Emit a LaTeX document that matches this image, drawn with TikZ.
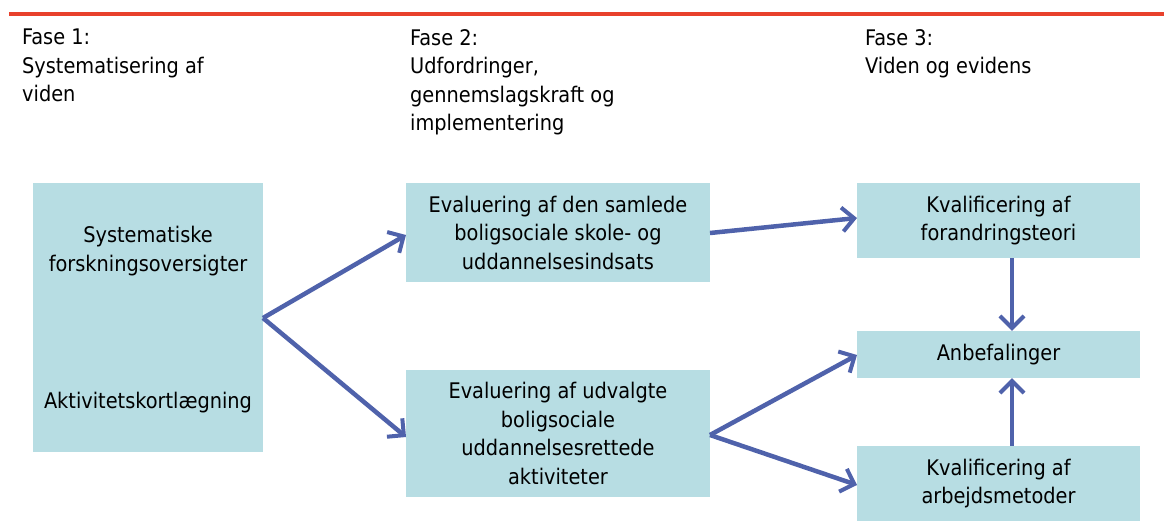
\documentclass[tikz,border=0pt]{standalone}
\usepackage{fontspec}
\setmainfont{DejaVu Sans Condensed}
\usetikzlibrary{arrows.meta}
\definecolor{boxfill}{HTML}{B7DDE3}
\definecolor{arrowblue}{HTML}{4F62AB}
\definecolor{topred}{HTML}{E8412C}
\begin{document}
\begin{tikzpicture}[x=1pt,y=-1pt,
  every node/.style={font=\fontsize{21.5}{28.5}\selectfont},
  phase/.style={anchor=north west,align=left,inner sep=0pt},
  box/.style={fill=boxfill,draw=none,align=center,inner sep=0pt},
  lbl/.style={align=center,inner sep=0pt},
  conn/.style={draw=arrowblue,line width=4.5pt,-{Straight Barb[length=12pt,width=24pt,line width=4pt]}}]
\useasboundingbox (0,0) rectangle (1164,532);
\draw[topred,line width=4pt] (9,14) -- (1164,14);
\node[phase] (p1) at (22,29) {Fase 1:\\Systematisering af\\viden};
\node[phase] (p2) at (410,29) {Fase 2:\\Udfordringer,\\gennemslagskraft og\\implementering};
\node[phase] (p3) at (865,29) {Fase 3:\\Viden og evidens};
% boxes
\node[box,minimum width=230pt,minimum height=269pt] (A) at (148,317.5) {};
\node[lbl] (a1) at (148,251) {Systematiske\\forskningsoversigter};
\node[lbl] (a2) at (148,403) {Aktivitetskortlægning};
\node[box,minimum width=304pt,minimum height=99pt] (B) at (558,232.5) {Evaluering af den samlede\\boligsociale skole- og\\uddannelsesindsats};
\node[box,minimum width=304pt,minimum height=127pt] (C) at (558,433.5) {Evaluering af udvalgte\\boligsociale\\uddannelsesrettede\\aktiviteter};
\node[box,minimum width=283pt,minimum height=75pt] (D) at (998.5,220.5) {Kvalificering af\\forandringsteori};
\node[box,minimum width=283pt,minimum height=47pt] (E) at (998.5,354.5) {Anbefalinger};
\node[box,minimum width=283pt,minimum height=75pt] (F) at (998.5,483.5) {Kvalificering af\\arbejdsmetoder};
% connectors
\coordinate (Ao) at (263,318);
\coordinate (Bo) at (710,233);
\coordinate (Co) at (710,435);
\draw[conn] (Ao) -- (406,235);
\draw[conn] (Ao) -- (406,437);
\draw[conn] (Bo) -- (857,218);
\draw[conn] (Co) -- (857,355);
\draw[conn] (Co) -- (857,485);
\draw[conn] (D.south -| 1012,0) -- (E.north -| 1012,0);
\draw[conn] (F.north -| 1012,0) -- (E.south -| 1012,0);
\end{tikzpicture}
\end{document}
